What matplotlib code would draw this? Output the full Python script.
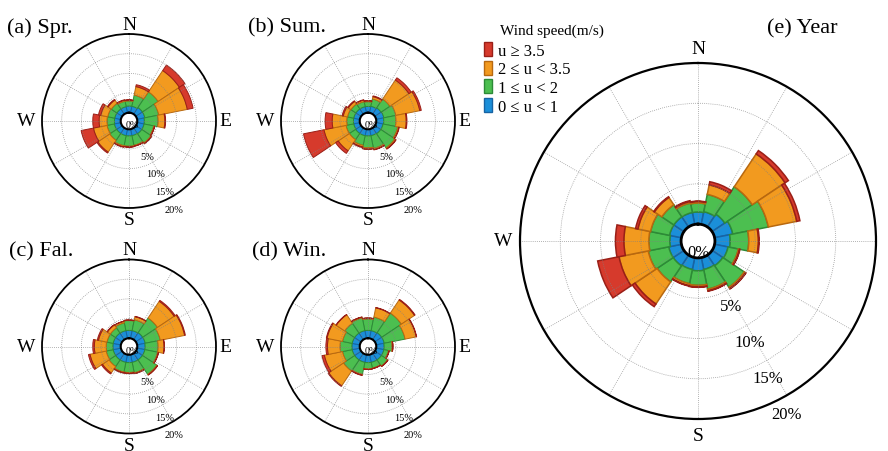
import numpy as np
import matplotlib.pyplot as plt
from matplotlib.patches import Patch

plt.rcParams['font.family'] = ['Liberation Serif', 'DejaVu Serif']

directions = ['N', 'NNE', 'NE', 'ENE', 'E', 'ESE', 'SE', 'SSE',
              'S', 'SSW', 'SW', 'WSW', 'W', 'WNW', 'NW', 'NNW']
speed_labels = ['0 ≤ u < 1', '1 ≤ u < 2', '2 ≤ u < 3.5', 'u ≥ 3.5']
colors = ['#1b8fd9', '#4cbf50', '#f29a1f', '#d63a2c']
edges = ['#1763a3', '#2d8a37', '#b8680f', '#9a1f17']

# frequency (%) by direction, one list per speed class
spr_u0 = [1.7, 1.7, 2.0, 2.0, 1.8, 1.8, 1.8, 1.7, 1.7, 1.7, 1.7, 1.7, 1.6, 1.6, 1.6, 1.6]
spr_u1 = [1.3, 2.9, 4.8, 3.6, 3.5, 2.5, 2.8, 2.5, 2.6, 2.6, 2.1, 1.9, 1.9, 1.8, 1.7, 1.4]
spr_u2 = [0.2, 2.2, 6.5, 7.4, 1.7, 0.2, 0.2, 0.2, 0.2, 0.3, 3.6, 3.5, 2.0, 1.8, 1.0, 0.3]
spr_u3 = [0.1, 0.5, 1.7, 1.5, 0.2, 0.05, 0.05, 0.05, 0.05, 0.1, 0.3, 3.2, 1.6, 0.6, 0.2, 0.1]

sum_u0 = [1.6, 1.7, 1.9, 2.0, 1.9, 1.8, 1.8, 1.7, 1.7, 1.7, 1.7, 1.6, 1.6, 1.6, 1.6, 1.6]
sum_u1 = [1.2, 1.9, 2.7, 3.1, 3.1, 3.8, 4.3, 3.3, 3.0, 2.5, 1.9, 2.0, 1.7, 1.6, 1.5, 1.3]
sum_u2 = [0.2, 0.6, 5.8, 6.2, 2.6, 0.3, 0.3, 0.3, 0.3, 0.4, 3.4, 5.7, 3.7, 1.1, 0.8, 0.4]
sum_u3 = [0.1, 0.2, 0.7, 0.4, 0.2, 0.1, 0.1, 0.1, 0.1, 0.2, 0.8, 5.3, 1.8, 0.3, 0.2, 0.1]

fal_u0 = [2.0, 2.0, 2.1, 2.1, 2.0, 2.0, 2.0, 2.0, 2.0, 2.0, 2.0, 2.0, 2.0, 2.0, 2.0, 2.0]
fal_u1 = [2.5, 2.8, 4.5, 3.9, 3.3, 3.3, 4.4, 2.7, 2.5, 2.5, 2.0, 1.8, 1.7, 1.6, 1.6, 2.0]
fal_u2 = [0.1, 0.8, 5.1, 6.3, 1.5, 0.2, 0.2, 0.2, 0.2, 0.2, 2.0, 4.2, 3.0, 2.2, 0.9, 0.4]
fal_u3 = [0.05, 0.1, 0.3, 0.2, 0.1, 0.05, 0.05, 0.05, 0.05, 0.1, 0.3, 0.4, 0.4, 0.3, 0.1, 0.05]

win_u0 = [2.0, 2.0, 2.1, 2.1, 2.0, 2.0, 2.0, 2.0, 2.0, 2.0, 2.0, 2.0, 2.0, 2.0, 2.0, 2.0]
win_u1 = [2.9, 3.5, 6.0, 5.4, 2.0, 1.2, 1.9, 1.5, 1.6, 3.1, 3.4, 2.5, 3.0, 2.5, 3.0, 3.3]
win_u2 = [0.2, 2.4, 4.0, 2.9, 0.2, 0.15, 0.1, 0.1, 0.1, 0.2, 4.5, 4.7, 3.2, 4.0, 2.6, 0.2]
win_u3 = [0.05, 0.1, 0.2, 0.1, 0.05, 0.05, 0.05, 0.05, 0.05, 0.1, 0.2, 0.6, 0.4, 0.2, 0.1, 0.05]

year_u0 = [1.5, 1.6, 1.9, 2.3, 1.9, 1.7, 1.6, 1.5, 1.6, 1.5, 1.6, 1.6, 1.4, 1.5, 1.5, 1.5]
year_u1 = [1.1, 2.2, 4.1, 4.5, 2.3, 1.3, 3.2, 2.5, 1.8, 1.8, 2.4, 2.6, 2.6, 2.4, 1.8, 1.2]
year_u2 = [0.2, 1.2, 4.9, 3.6, 1.2, 0.15, 0.2, 0.2, 0.2, 0.25, 3.3, 3.7, 3.1, 1.6, 1.1, 0.2]
year_u3 = [0.05, 0.4, 0.5, 0.4, 0.1, 0.05, 0.05, 0.05, 0.05, 0.05, 0.4, 2.7, 1.05, 0.3, 0.1, 0.1]

ring_ticks = [5, 10, 15, 20]

W, H = 888, 452
fig = plt.figure(figsize=(W / 100, H / 100), dpi=100)


def polar_axes(cx, cy, R):
    return fig.add_axes([(cx - R) / W, (H - cy - R) / H, 2 * R / W, 2 * R / H],
                        projection='polar')


def rose(ax, classes, R, big):
    theta = np.deg2rad(np.arange(len(directions)) * 360 / len(directions))
    lw = 1.1 if big else 0.7
    bottom = np.zeros(len(directions))
    bars = []
    for vals, c, ec in zip(classes, colors, edges):
        b = ax.bar(theta, vals, width=2 * np.pi / len(directions), bottom=bottom,
                   color=c, edgecolor=ec, linewidth=lw)
        bars.append(b)
        bottom = bottom + np.array(vals)

    ax.set_theta_zero_location('N')
    ax.set_theta_direction(-1)
    ax.set_ylim(0, 20)
    ax.set_rorigin(-2.1)
    ax.set_rticks(ring_ticks)
    ax.set_yticklabels([])
    ax.set_thetagrids(np.arange(0, 360, 30), labels=[''] * 12)
    # dotted grid drawn over the bars, as in the original
    ax.grid(color='#808080', alpha=0.8, linestyle=(0, (1, 1.5)), linewidth=0.6)
    ax.spines['polar'].set_linewidth(1.6 if big else 1.3)
    ax.spines['inner'].set_linewidth(2.0 if big else 1.5)

    # compass labels
    fs = 14
    pads = (14, 17, 17, 17) if big else (10, 12, 9, 16)  # N, S, E, W in px
    k = 0.5 / R
    ax.text(0.5, 1 + pads[0] * k, 'N', transform=ax.transAxes, ha='center', va='center', fontsize=fs)
    ax.text(0.5, -pads[1] * k, 'S', transform=ax.transAxes, ha='center', va='center', fontsize=fs)
    ax.text(1 + pads[2] * k, 0.5, 'E', transform=ax.transAxes, ha='center', va='center', fontsize=fs)
    ax.text(-pads[3] * k, 0.5, 'W', transform=ax.transAxes, ha='center', va='center', fontsize=fs)

    # radial labels
    off = 2.0 if big else 3.0
    rfs = 12 if big else 7.5
    for v in ring_ticks:
        ax.text(np.deg2rad(153), v + off, f'{v}%', ha='center', va='center', fontsize=rfs)
    if big:
        ax.text(0.5 + 1 * k, 0.5 - 11 * k, '0%', transform=ax.transAxes,
                ha='center', va='center', fontsize=12)
    else:
        ax.text(0.5 + 3 * k, 0.5 - 4 * k, '0%', transform=ax.transAxes,
                ha='center', va='center', fontsize=7)
    return bars


ax_a = polar_axes(129, 122, 87)
rose(ax_a, [spr_u0, spr_u1, spr_u2, spr_u3], 87, False)
ax_b = polar_axes(368, 122, 87)
rose(ax_b, [sum_u0, sum_u1, sum_u2, sum_u3], 87, False)
ax_c = polar_axes(129, 347.5, 87)
rose(ax_c, [fal_u0, fal_u1, fal_u2, fal_u3], 87, False)
ax_d = polar_axes(368, 347.5, 87)
rose(ax_d, [win_u0, win_u1, win_u2, win_u3], 87, False)
ax_e = polar_axes(698, 242, 178)
rose(ax_e, [year_u0, year_u1, year_u2, year_u3], 178, True)

tfs = 16
fig.text(7 / W, 1 - 28 / H, '(a) Spr.', fontsize=tfs, ha='left', va='center')
fig.text(248 / W, 1 - 28 / H, '(b) Sum.', fontsize=tfs, ha='left', va='center')
fig.text(9 / W, 1 - 252 / H, '(c) Fal.', fontsize=tfs, ha='left', va='center')
fig.text(252 / W, 1 - 252 / H, '(d) Win.', fontsize=tfs, ha='left', va='center')
fig.text(767 / W, 1 - 29 / H, '(e) Year', fontsize=tfs, ha='left', va='center')

# legend, fastest class on top
fig.text(500 / W, 1 - 31 / H, 'Wind speed(m/s)', fontsize=11, ha='left', va='center')
handles = [Patch(facecolor=c, edgecolor=ec, linewidth=1.0) for c, ec in zip(colors, edges)]
fig.legend(handles[::-1], speed_labels[::-1], loc='upper left',
           bbox_to_anchor=(484 / W, 1 - 43 / H), frameon=False, fontsize=12,
           handlelength=0.45, handleheight=0.9, handletextpad=0.4,
           labelspacing=0.12, borderpad=0, borderaxespad=0)

fig.savefig('out.png', dpi=100)
